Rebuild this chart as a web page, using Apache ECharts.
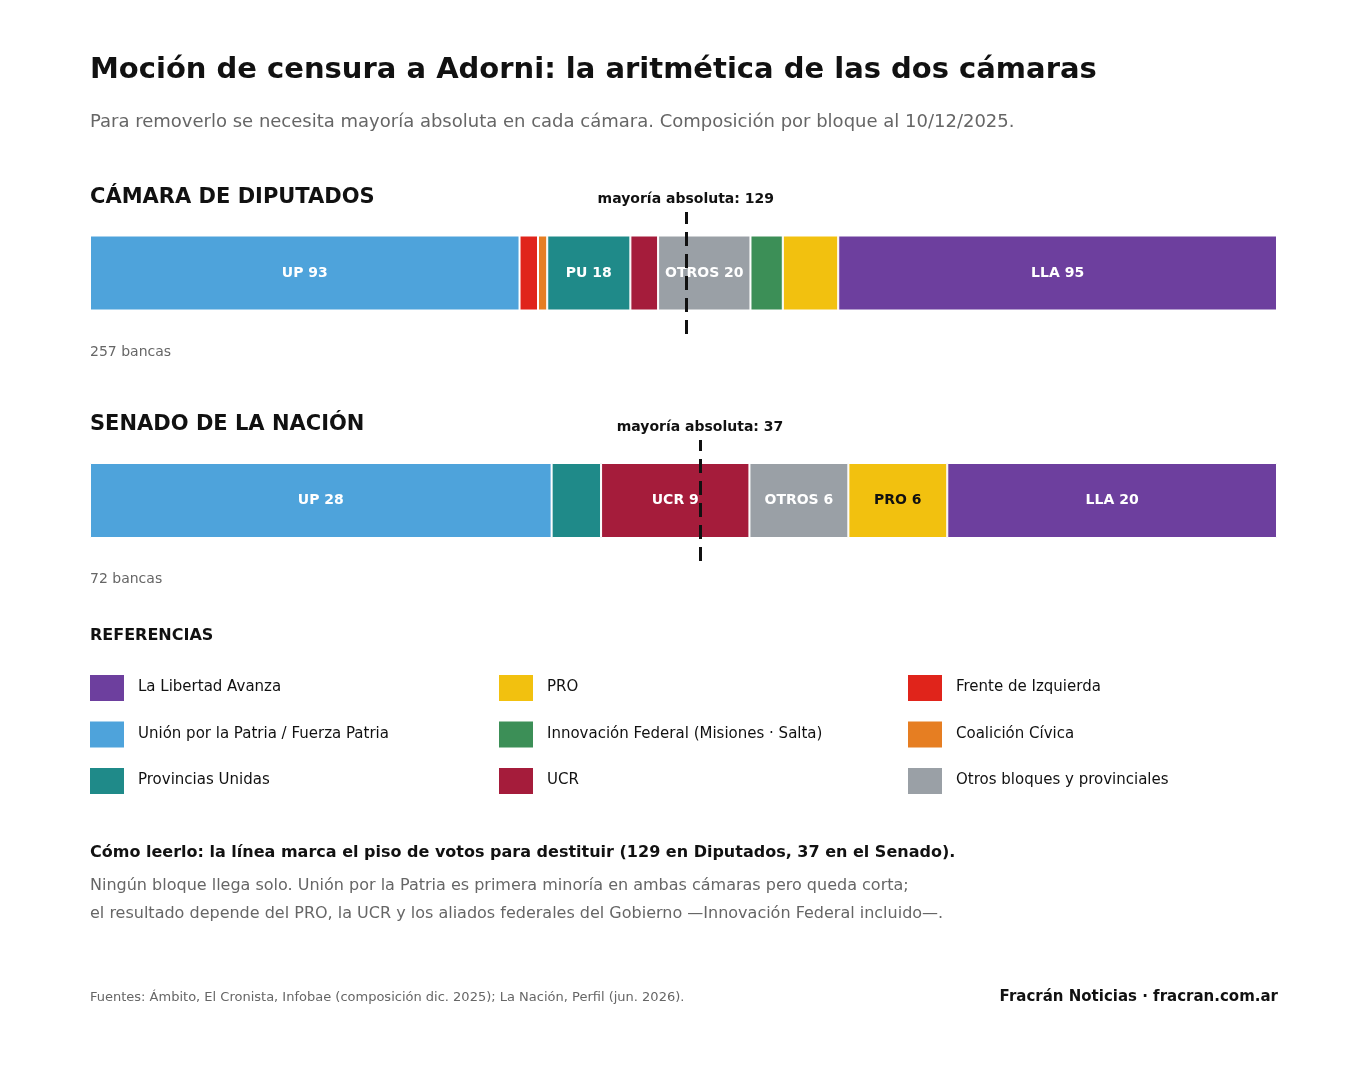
<!DOCTYPE html>
<html><head><meta charset="utf-8">
<script src="https://cdn.jsdelivr.net/npm/echarts@6/dist/echarts.min.js"></script>
<style>html,body{margin:0;padding:0;background:#fff}#c{width:1367px;height:1079px}</style>
</head><body><div id="c"></div>
<script>
const dipBlocs = ['UP','FIT','CC','PU','UCR','OTROS','IF','PRO','LLA'];
const dipSeats = [93,4,2,18,6,20,7,12,95];
const dipLabels = ['UP 93','','','PU 18','','OTROS 20','','','LLA 95'];
const senBlocs = ['UP','PU','UCR','OTROS','PRO','LLA'];
const senSeats = [28,3,9,6,6,20];
const senLabels = ['UP 28','','UCR 9','OTROS 6','PRO 6','LLA 20'];
const dipTotal = 257, dipMajority = 129;
const senTotal = 72, senMajority = 37;
const legendKeys = ['LLA','PRO','FIT','UP','IF','CC','PU','UCR','OTROS'];
const legendNames = ['La Libertad Avanza','PRO','Frente de Izquierda','Unión por la Patria / Fuerza Patria','Innovación Federal (Misiones · Salta)','Coalición Cívica','Provincias Unidas','UCR','Otros bloques y provinciales'];
const colors = {LLA:'#6d3f9e',UP:'#4ea3db',PU:'#1f8a89',PRO:'#f2c10f',IF:'#3c8f57',UCR:'#a51c3b',FIT:'#e0241b',CC:'#e67e22',OTROS:'#9aa0a6'};

const F = "'DejaVu Sans', 'Noto Sans', sans-serif";
const chart = echarts.init(document.getElementById('c'));
function mkSeries(blocs, seats, labels, idx, majority){
  return blocs.map((b,i)=>{
    const s = {type:'bar', stack:'s'+idx, xAxisIndex:idx, yAxisIndex:idx, barWidth:75,
      data:[seats[i]], itemStyle:{color:colors[b], borderColor:'#fff', borderWidth:1},
      label:{show:!!labels[i], position:'inside', formatter:labels[i]||'', color:b==='PRO'?'#111':'#fff', fontWeight:'bold', fontSize:14, fontFamily:F},
      silent:true, animation:false};
    if(i===0){
      s.markLine = {symbol:'none', silent:true, animation:false,
        lineStyle:{color:'#111', type:[14,8], width:3},
        label:{show:true, position:'end', formatter:'mayoría absoluta: '+majority, color:'#111', fontWeight:'bold', fontSize:14, fontFamily:F, distance:6},
        data:[{xAxis:majority}]};
    }
    return s;
  });
}
const T = (x,y,text,o)=>({type:'text', left:x, top:y, style:Object.assign({text, fontFamily:F, fill:'#111', fontSize:15}, o||{})});
const g = [
  T(90,56,'Moción de censura a Adorni: la aritmética de las dos cámaras',{fontSize:29,fontWeight:'bold'}),
  T(90,113,'Para removerlo se necesita mayoría absoluta en cada cámara. Composición por bloque al 10/12/2025.',{fontSize:18,fill:'#666'}),
  T(90,187,'CÁMARA DE DIPUTADOS',{fontSize:21,fontWeight:'bold'}),
  T(90,345,dipTotal+' bancas',{fontSize:14,fill:'#666'}),
  T(90,414,'SENADO DE LA NACIÓN',{fontSize:21,fontWeight:'bold'}),
  T(90,572,senTotal+' bancas',{fontSize:14,fill:'#666'}),
  T(90,628,'REFERENCIAS',{fontSize:16,fontWeight:'bold'}),
  T(90,845,'Cómo leerlo: la línea marca el piso de votos para destituir (129 en Diputados, 37 en el Senado).',{fontSize:16,fontWeight:'bold'}),
  T(90,878,'Ningún bloque llega solo. Unión por la Patria es primera minoría en ambas cámaras pero queda corta;',{fontSize:16,fill:'#666'}),
  T(90,906,'el resultado depende del PRO, la UCR y los aliados federales del Gobierno —Innovación Federal incluido—.',{fontSize:16,fill:'#666'}),
  T(90,991,'Fuentes: Ámbito, El Cronista, Infobae (composición dic. 2025); La Nación, Perfil (jun. 2026).',{fontSize:13,fill:'#666'}),
  {type:'text', right:89, top:990, style:{text:'Fracrán Noticias · fracran.com.ar', fontFamily:F, fontSize:15, fontWeight:'bold', fill:'#111'}}
];
legendKeys.forEach((k,i)=>{
  const col=i%3,row=Math.floor(i/3);
  const x=90+col*409, y=675+row*46.5;
  g.push({type:'rect', shape:{x, y, width:34, height:26}, style:{fill:colors[k]}});
  g.push(T(x+48,y+5,legendNames[i]));
});
chart.setOption({
  animation:false,
  grid:[{left:90,top:212,width:1187,height:122},{left:90,top:440,width:1187,height:121}],
  xAxis:[{type:'value',gridIndex:0,min:0,max:dipTotal,show:false},{type:'value',gridIndex:1,min:0,max:senTotal,show:false}],
  yAxis:[{type:'category',gridIndex:0,data:['D'],show:false},{type:'category',gridIndex:1,data:['S'],show:false}],
  series:[...mkSeries(dipBlocs,dipSeats,dipLabels,0,dipMajority),...mkSeries(senBlocs,senSeats,senLabels,1,senMajority)],
  graphic:g
});
</script></body></html>
